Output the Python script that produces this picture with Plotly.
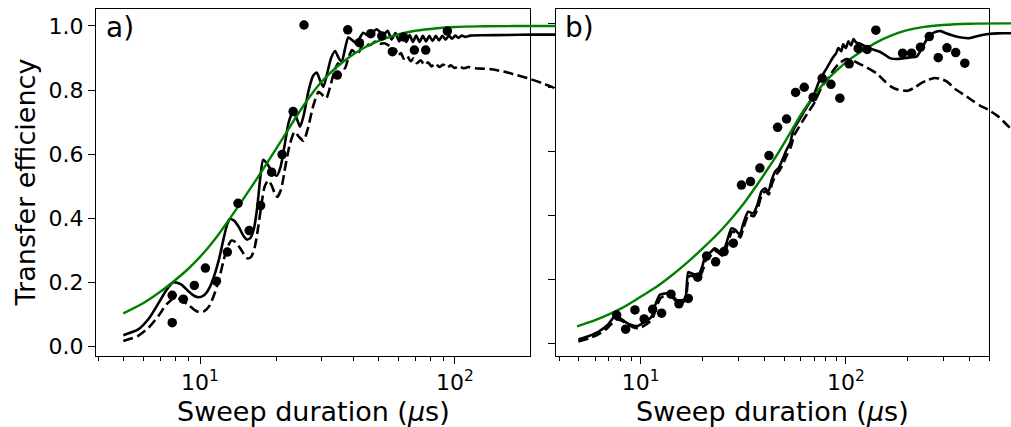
import plotly.graph_objects as go

W, H = 1011, 427

# ---------------- panel a) ----------------
A_DATA_T = [7.78, 7.78, 8.6, 9.5, 10.5, 11.6, 12.8, 14.1, 15.6, 17.3, 19.1, 21.0,
            23.2, 25.6, 34.6, 38.0, 42.2, 46.8, 51.7, 56.9, 62.9, 69.4, 76.9, 93.5]
A_DATA_P = [0.075, 0.160, 0.148, 0.191, 0.245, 0.204, 0.295, 0.447, 0.362, 0.440, 0.544, 0.599,
            0.733, 1.003, 0.847, 0.988, 0.948, 0.976, 0.969, 0.920, 0.966, 0.925, 0.925, 0.984]

A_SOLID_T = [5.0, 5.7, 6.3, 6.9, 7.4, 7.86, 8.4, 9.0, 9.5, 9.9, 10.4, 10.9, 11.4, 11.9, 12.4,
             12.8, 13.1, 13.6, 14.2, 14.8, 15.3, 15.8, 16.3, 16.8, 17.2, 17.7, 18.3, 19.1, 20.0,
             20.7, 21.5, 22.3, 23.2, 24.0, 24.7, 25.5, 26.7, 27.8, 28.7, 29.6, 30.5, 31.5, 32.7,
             33.9, 35.0, 36.0, 37.1, 38.2, 39.7, 41.2, 42.5, 43.7, 45.2, 46.8, 48.0, 49.3, 50.8,
             52.4, 54.5, 56.5, 58.5, 60.5, 62.5, 64.5, 66.5, 68.5, 70.5, 72.7, 74.9, 77.1, 79.4,
             81.8, 84.2, 86.7, 89.3, 92.0, 94.7, 97.5, 100.4, 103.4, 106.5, 110, 115, 130, 160,
             200, 270]
A_SOLID_P = [0.036, 0.053, 0.088, 0.138, 0.178, 0.201, 0.195, 0.173, 0.158, 0.154, 0.161, 0.184,
             0.224, 0.276, 0.340, 0.383, 0.398, 0.393, 0.373, 0.346, 0.334, 0.340, 0.370, 0.440,
             0.520, 0.583, 0.572, 0.548, 0.533, 0.560, 0.630, 0.700, 0.735, 0.710, 0.686, 0.720,
             0.800, 0.845, 0.855, 0.830, 0.810, 0.850, 0.900, 0.922, 0.900, 0.888, 0.930, 0.964,
             0.955, 0.945, 0.965, 0.979, 0.972, 0.969, 0.983, 0.990, 0.982, 0.972, 0.985, 0.958,
             0.978, 0.952, 0.975, 0.950, 0.972, 0.950, 0.970, 0.950, 0.969, 0.952, 0.969, 0.953,
             0.969, 0.955, 0.969, 0.957, 0.970, 0.960, 0.970, 0.963, 0.970, 0.966, 0.970, 0.971,
             0.972, 0.973, 0.973]

A_DASH_T = [5.0, 5.7, 6.3, 6.9, 7.4, 7.95, 8.4, 9.0, 9.5, 9.9, 10.4, 10.9, 11.4, 11.9, 12.4,
            12.9, 13.3, 13.8, 14.4, 15.0, 15.4, 15.9, 16.4, 16.9, 17.4, 17.9, 18.5, 19.1, 19.6,
            20.1, 20.8, 21.6, 22.5, 23.5, 24.4, 25.5, 26.5, 27.8, 29.2, 30.2, 31.3, 32.4, 33.7,
            34.8, 35.9, 37.0, 38.2, 39.5, 40.8, 42.0, 43.3, 44.6, 46.0, 47.5, 49.0, 51.0, 53.0,
            55.7, 57.0, 58.5, 60.0, 61.5, 63.0, 65.0, 67.0, 69.0, 71.0, 73.5, 76.0, 78.5, 81.0,
            84.0, 87.0, 90.0, 93.0, 96.5, 100, 104, 108, 113, 120, 137, 155, 173, 197, 220, 240,
            270]
A_DASH_P = [0.018, 0.033, 0.060, 0.098, 0.133, 0.152, 0.148, 0.130, 0.115, 0.108, 0.111, 0.128,
            0.165, 0.213, 0.272, 0.315, 0.331, 0.326, 0.306, 0.284, 0.275, 0.281, 0.310, 0.370,
            0.440, 0.497, 0.518, 0.503, 0.480, 0.467, 0.490, 0.560, 0.630, 0.670, 0.655, 0.642,
            0.680, 0.750, 0.795, 0.785, 0.775, 0.810, 0.860, 0.884, 0.872, 0.868, 0.900, 0.925,
            0.915, 0.918, 0.940, 0.948, 0.940, 0.945, 0.952, 0.945, 0.946, 0.936, 0.920, 0.928,
            0.908, 0.916, 0.898, 0.907, 0.890, 0.899, 0.884, 0.893, 0.878, 0.887, 0.874, 0.883,
            0.872, 0.880, 0.870, 0.877, 0.869, 0.875, 0.868, 0.872, 0.868, 0.866, 0.858, 0.848,
            0.835, 0.822, 0.810, 0.795]

A_FIT_T = [5.0, 6.0, 7.0, 8.0, 9.0, 10.0, 11.0, 12.0, 13.0, 14.0, 15.0, 16.5, 18.0, 20.0, 22.0,
           24.0, 27.0, 30.0, 34.4, 40.0, 45.0, 50.8, 60.0, 70.0, 85.0, 100, 130, 200, 300]
A_FIT_P = [0.104, 0.136, 0.172, 0.208, 0.243, 0.280, 0.318, 0.357, 0.396, 0.433, 0.468, 0.517,
           0.563, 0.620, 0.672, 0.720, 0.780, 0.826, 0.872, 0.912, 0.936, 0.955, 0.974, 0.985,
           0.993, 0.997, 0.999, 1.000, 1.000]

# ---------------- panel b) ----------------
B_DATA_T = [7.64, 8.45, 9.38, 10.4, 11.44, 12.65, 14.05, 15.37, 17.07, 18.97, 20.97, 23.2,
            25.5, 28.3, 31.0, 34.3, 38.1, 42.2, 46.5, 51.4, 56.9, 62.7, 69.3, 76.7, 84.6, 93.5,
            103.8, 114.8, 127, 140, 189, 209, 231, 255, 282, 311, 343, 380]
B_DATA_P = [0.090, 0.046, 0.106, 0.078, 0.108, 0.096, 0.155, 0.125, 0.142, 0.208, 0.274, 0.256,
            0.288, 0.314, 0.495, 0.506, 0.548, 0.587, 0.675, 0.701, 0.784, 0.800, 0.769, 0.828,
            0.809, 0.766, 0.873, 0.921, 0.918, 0.978, 0.906, 0.906, 0.925, 0.958, 0.892, 0.923,
            0.908, 0.875]

B_SOLID_T = [4.97, 5.6, 6.22, 6.9, 7.5, 8.0, 8.4, 9.0, 9.6, 10.5, 11.3, 11.7, 12.4, 13.1, 13.9,
             14.97, 16.0, 16.5, 17.06, 17.7, 19.1, 20.0, 20.6, 21.5, 23.0, 24.8, 26.0, 27.7, 29.0,
             30.4, 31.5, 33.4, 35.4, 37.0, 38.8, 40.4, 41.9, 43.5, 45.2, 47.0, 49.0, 51.4, 53.5,
             55.5, 58.5, 61.8, 65.5, 69.3, 72.0, 74.6, 77.5, 80.6, 84.0, 87.0, 89.5, 92.0, 95.0,
             97.0, 100, 103, 106, 109, 112, 116, 123, 131, 139, 147, 155, 165, 177, 190, 205, 221,
             235, 250, 262, 275, 290, 308, 345, 400, 440, 496, 550, 650]
B_SOLID_P = [0.014, 0.025, 0.038, 0.059, 0.086, 0.079, 0.069, 0.059, 0.056, 0.069, 0.085, 0.116,
             0.153, 0.157, 0.158, 0.137, 0.137, 0.140, 0.224, 0.220, 0.215, 0.243, 0.272, 0.280,
             0.298, 0.283, 0.308, 0.360, 0.355, 0.340, 0.371, 0.412, 0.407, 0.433, 0.475, 0.485,
             0.475, 0.511, 0.537, 0.548, 0.573, 0.605, 0.626, 0.667, 0.692, 0.719, 0.745, 0.771,
             0.798, 0.823, 0.841, 0.859, 0.879, 0.895, 0.905, 0.922, 0.912, 0.934, 0.922, 0.943,
             0.930, 0.950, 0.940, 0.937, 0.929, 0.921, 0.915, 0.910, 0.901, 0.890, 0.888, 0.890,
             0.893, 0.895, 0.922, 0.953, 0.966, 0.973, 0.975, 0.968, 0.958, 0.953, 0.960, 0.966,
             0.968, 0.968]

B_DASH_T = [4.97, 5.6, 6.22, 6.9, 7.6, 8.1, 8.6, 9.2, 9.8, 10.6, 11.4, 11.8, 12.5, 13.2, 14.0,
            15.1, 16.1, 16.6, 17.2, 17.9, 19.3, 20.2, 20.8, 21.7, 23.2, 25.0, 26.2, 27.9, 29.2,
            30.6, 31.7, 33.6, 35.6, 37.2, 39.0, 40.6, 42.1, 43.7, 45.4, 47.2, 49.3, 51.7, 54.0,
            56.0, 59.0, 62.3, 66.0, 70.0, 73.0, 76.0, 79.0, 83.0, 87.0, 92.0, 97.0, 101, 106,
            113, 122.6, 132, 142, 154, 166, 180, 200, 215, 232, 250, 270, 290, 310, 345, 380, 415,
            450, 496, 550, 650]
B_DASH_P = [0.008, 0.018, 0.030, 0.050, 0.076, 0.072, 0.062, 0.052, 0.049, 0.060, 0.078, 0.105,
            0.143, 0.150, 0.150, 0.130, 0.130, 0.140, 0.212, 0.212, 0.207, 0.235, 0.262, 0.272,
            0.290, 0.275, 0.300, 0.350, 0.347, 0.332, 0.362, 0.403, 0.398, 0.423, 0.465, 0.476,
            0.466, 0.500, 0.526, 0.538, 0.560, 0.590, 0.615, 0.650, 0.675, 0.700, 0.725, 0.750,
            0.775, 0.800, 0.815, 0.832, 0.853, 0.872, 0.883, 0.888, 0.886, 0.877, 0.866, 0.855,
            0.842, 0.820, 0.802, 0.792, 0.789, 0.798, 0.812, 0.822, 0.829, 0.826, 0.818, 0.792,
            0.775, 0.758, 0.743, 0.729, 0.710, 0.665]

B_FIT_T = [4.9, 6.0, 7.0, 8.0, 10.0, 11.7, 14.0, 17.0, 20.0, 24.8, 28.0, 32.0, 37.0, 42.0,
           47.5, 54.0, 62.0, 71.0, 80.6, 92.0, 104, 120, 141, 165, 197, 240, 296, 400, 650]
B_FIT_P = [0.055, 0.074, 0.092, 0.110, 0.147, 0.174, 0.211, 0.256, 0.297, 0.356, 0.394, 0.440,
           0.497, 0.549, 0.602, 0.662, 0.726, 0.779, 0.822, 0.857, 0.886, 0.913, 0.940, 0.960,
           0.977, 0.988, 0.994, 0.998, 0.999]

Y_TICKS = [0.0, 0.2, 0.4, 0.6, 0.8, 1.0]
X_MAJOR = [10, 100]
X_MAJOR_TEXT = ["10<sup>1</sup>", "10<sup>2</sup>"]
A_MINOR = [4, 5, 6, 7, 8, 9, 20, 30, 40, 50, 60, 70, 80, 90]
B_MINOR = [4, 5, 6, 7, 8, 9, 20, 30, 40, 50, 60, 70, 80, 90, 200, 300, 400, 500]

# ---------------- geometry (pixels) ----------------
A_LEFT, A_RIGHT = 96.0, 530.0
B_LEFT, B_RIGHT = 555.7, 989.3
TOP, BOTTOM = 9.3, 355.5
A_DEC = 254.8          # pixels per decade, panel a
B_DEC = 205.2          # pixels per decade, panel b
A_LOG0, B_LOG0 = 0.5918, 0.586
A_YR = [-0.0275, 1.052]
B_YR = [-0.036, 1.0429]

FONT = "DejaVu Sans"
GREEN = "#008000"
LW = 2.6

def fx(p):
    return p / W

def fy(p):
    return 1 - p / H

ydom = [fy(BOTTOM), fy(TOP)]

fig = go.Figure()

# empty traces so the framed axes exist
fig.add_trace(go.Scatter(x=[], y=[], xaxis="x", yaxis="y", showlegend=False))
fig.add_trace(go.Scatter(x=[], y=[], xaxis="x2", yaxis="y2", showlegend=False))

def add_panel(xa, ya, sol_t, sol_p, dash_t, dash_p, fit_t, fit_p, dat_t, dat_p):
    fig.add_trace(go.Scatter(x=dash_t, y=dash_p, mode="lines", xaxis=xa, yaxis=ya,
                             line=dict(color="black", width=LW, dash="10px,4.5px",
                                       shape="spline", smoothing=0.6),
                             showlegend=False))
    fig.add_trace(go.Scatter(x=sol_t, y=sol_p, mode="lines", xaxis=xa, yaxis=ya,
                             line=dict(color="black", width=LW, shape="spline", smoothing=0.6),
                             showlegend=False))
    fig.add_trace(go.Scatter(x=fit_t, y=fit_p, mode="lines", xaxis=xa, yaxis=ya,
                             line=dict(color=GREEN, width=2.4, shape="spline", smoothing=1.0),
                             showlegend=False))
    fig.add_trace(go.Scatter(x=dat_t, y=dat_p, mode="markers", xaxis=xa, yaxis=ya,
                             marker=dict(color="black", size=9.5, line=dict(width=0)),
                             showlegend=False))

add_panel("x3", "y3", A_SOLID_T, A_SOLID_P, A_DASH_T, A_DASH_P, A_FIT_T, A_FIT_P,
          A_DATA_T, A_DATA_P)
add_panel("x4", "y4", B_SOLID_T, B_SOLID_P, B_DASH_T, B_DASH_P, B_FIT_T, B_FIT_P,
          B_DATA_T, B_DATA_P)

tickfont = dict(family=FONT, size=22, color="black")

def frame_x(left, right, log0, dec, minor):
    return dict(type="log", domain=[fx(left), fx(right)],
                range=[log0, log0 + (right - left) / dec], autorange=False,
                showline=True, mirror=True, linecolor="black", linewidth=1.3,
                showgrid=False, zeroline=False, ticks="outside", ticklen=7,
                tickwidth=1.3, tickcolor="black", tickmode="array", tickvals=X_MAJOR,
                ticktext=X_MAJOR_TEXT, tickfont=tickfont, automargin=False,
                minor=dict(ticks="outside", ticklen=4, tickwidth=1.1, tickcolor="black",
                           tickmode="array", tickvals=minor, showgrid=False))

def frame_y(rng, labels):
    return dict(domain=ydom, range=rng, autorange=False, showline=True, mirror=True,
                linecolor="black", linewidth=1.3, showgrid=False, zeroline=False,
                ticks="outside", ticklen=7, tickwidth=1.3, tickcolor="black",
                tickmode="array", tickvals=Y_TICKS, tickformat=".1f",
                showticklabels=labels, tickfont=tickfont, automargin=False)

def hidden_x(left, right, log0, dec):
    return dict(type="log", domain=[fx(left), fx(right)],
                range=[log0, log0 + (right - left) / dec], autorange=False, visible=False,
                showticklabels=False)

def hidden_y(rng):
    return dict(domain=ydom, range=rng, autorange=False, visible=False, showticklabels=False)

fig.update_layout(
    width=W, height=H,
    margin=dict(l=0, r=0, t=0, b=0),
    paper_bgcolor="white",
    plot_bgcolor="rgba(0,0,0,0)",
    font=dict(family=FONT, color="black"),
    xaxis=dict(frame_x(A_LEFT, A_RIGHT, A_LOG0, A_DEC, A_MINOR), anchor="y"),
    yaxis=dict(frame_y(A_YR, True), anchor="x"),
    xaxis2=dict(frame_x(B_LEFT, B_RIGHT, B_LOG0, B_DEC, B_MINOR), anchor="y2"),
    yaxis2=dict(frame_y(B_YR, False), anchor="x2"),
    xaxis3=dict(hidden_x(A_LEFT, B_LEFT, A_LOG0, A_DEC), anchor="y3"),
    yaxis3=dict(hidden_y(A_YR), anchor="x3"),
    xaxis4=dict(hidden_x(B_LEFT, W, B_LOG0, B_DEC), anchor="y4"),
    yaxis4=dict(hidden_y(B_YR), anchor="x4"),
)

label_font = dict(family=FONT, size=27, color="black")
annotations = [
    dict(text="a)", x=fx(104), y=fy(9), xanchor="left", yanchor="top",
         font=dict(family=FONT, size=28, color="black")),
    dict(text="b)", x=fx(563), y=fy(9), xanchor="left", yanchor="top",
         font=dict(family=FONT, size=28, color="black")),
    dict(text="Sweep duration (<i>μ</i>s)", x=fx((A_LEFT + A_RIGHT) / 2), y=fy(411),
         xanchor="center", yanchor="middle", font=label_font),
    dict(text="Sweep duration (<i>μ</i>s)", x=fx((B_LEFT + B_RIGHT) / 2), y=fy(411),
         xanchor="center", yanchor="middle", font=label_font),
    dict(text="Transfer efficiency", x=fx(25), y=fy((TOP + BOTTOM) / 2), textangle=-90,
         xanchor="center", yanchor="middle", font=label_font),
]
for a in annotations:
    a.update(xref="paper", yref="paper", showarrow=False)
fig.update_layout(annotations=annotations)

fig.write_html("out.html")
